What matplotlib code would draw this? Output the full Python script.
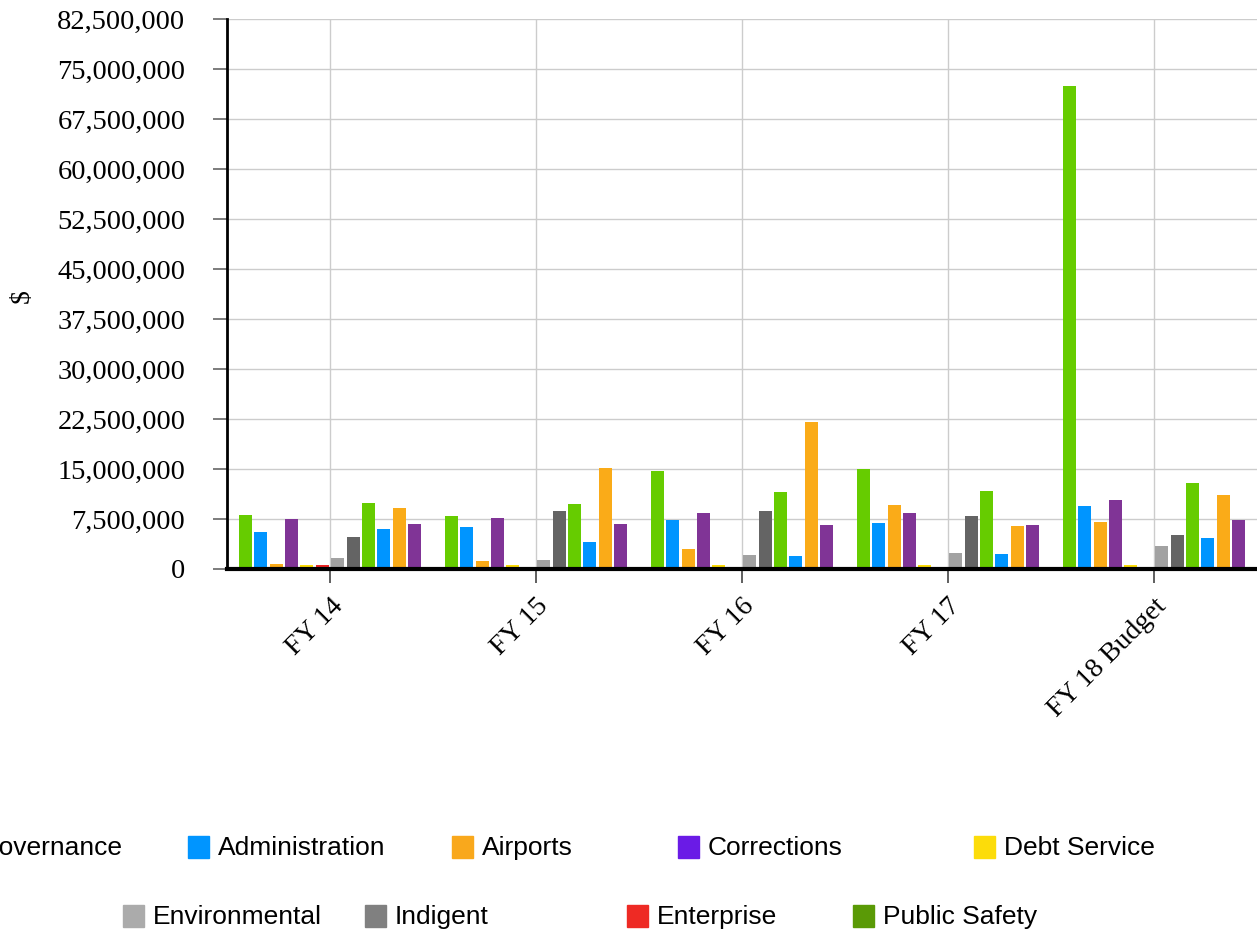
import numpy as np
import matplotlib.pyplot as plt
from matplotlib.patches import Rectangle
from matplotlib.ticker import FuncFormatter, MultipleLocator

years = ['FY 14', 'FY 15', 'FY 16', 'FY 17', 'FY 18 Budget']

# one list per department, one value per year ($)
governance = [8.1e6, 7.95e6, 14.7e6, 15.0e6, 72.45e6]
administration = [5.6e6, 6.3e6, 7.35e6, 6.9e6, 9.45e6]
airports = [0.75e6, 1.2e6, 3.0e6, 9.6e6, 7.05e6]
corrections = [7.5e6, 7.65e6, 8.4e6, 8.4e6, 10.35e6]
debt_service = [0.6e6, 0.6e6, 0.6e6, 0.6e6, 0.6e6]
enterprise = [0.6e6, 0, 0, 0, 0]
environmental = [1.65e6, 1.35e6, 2.1e6, 2.4e6, 3.45e6]
indigent = [4.8e6, 8.7e6, 8.7e6, 7.95e6, 5.1e6]
public_safety = [9.9e6, 9.75e6, 11.55e6, 11.7e6, 12.9e6]
public_works = [6.0e6, 4.05e6, 1.95e6, 2.25e6, 4.65e6]
recreation = [9.15e6, 15.15e6, 22.05e6, 6.45e6, 11.1e6]
transportation = [6.75e6, 6.75e6, 6.6e6, 6.6e6, 7.35e6]

series = [governance, administration, airports, corrections, debt_service,
          enterprise, environmental, indigent, public_safety, public_works,
          recreation, transportation]
bar_colors = ['#66cc00', '#0095ff', '#faab18', '#803496', '#fcdc06', '#ec2424',
              '#a2a2a2', '#646464', '#66cc00', '#0095ff', '#faab18', '#803496']

# legend as shown in the picture (first row is cut at the left edge)
leg_row1 = ['Governance', 'Administration', 'Airports', 'Corrections', 'Debt Service']
leg_row1_col = ['#66cc00', '#0095ff', '#f9a81c', '#6a1be6', '#fcdc0a']
leg_row2 = ['Environmental', 'Indigent', 'Enterprise', 'Public Safety']
leg_row2_col = ['#ababab', '#808080', '#ee2a24', '#5a9a06']

W, H = 1257, 930
fig = plt.figure(figsize=(W/100, H/100), dpi=100)
ax = fig.add_axes([227/W, 1-569/H, 1-227/W, 550/H])

x = np.arange(len(years))
slot = 0.0748
bw = 0.063
for i, (vals, c) in enumerate(zip(series, bar_colors)):
    off = (i - (len(series)-1)/2) * slot
    ax.bar(x + off, vals, width=bw, color=c, zorder=3)

ax.set_xlim(-0.5, 4.5)
ax.set_ylim(0, 82.5e6)
ax.yaxis.set_major_locator(MultipleLocator(7.5e6))
ax.yaxis.set_major_formatter(FuncFormatter(lambda v, p: f'{v:,.0f}'))
ax.set_xticks(x)
ax.set_xticklabels(years, rotation=45, ha='right', va='top',
                   rotation_mode='anchor', family='Liberation Serif', fontsize=20)
for lab in ax.get_yticklabels():
    lab.set_family('Liberation Serif')
    lab.set_fontsize(20.5)
ax.tick_params(axis='y', length=10, width=1.2, color='#666666', pad=20)
ax.tick_params(axis='x', length=10, width=1.2, color='#444444', pad=8)
ax.grid(color='#cccccc', linewidth=1, zorder=0)
ax.set_axisbelow(True)
for s in ['top', 'right']:
    ax.spines[s].set_visible(False)
ax.spines['left'].set_linewidth(2)
ax.spines['bottom'].set_linewidth(3)
ax.spines['bottom'].set_zorder(4)

fig.text(22/W, 1-296/H, '$', rotation=90, ha='center', va='center',
         family='Liberation Serif', fontsize=20)

# legend
sw, sh = 21, 22
row1_x = [-51, 188, 452, 678, 974]
row2_x = [123, 365, 627, 853]
for names, cols, xs, yc in [(leg_row1, leg_row1_col, row1_x, 847),
                            (leg_row2, leg_row2_col, row2_x, 916)]:
    for name, c, xp in zip(names, cols, xs):
        fig.patches.append(Rectangle((xp/W, 1-(yc+sh/2)/H), sw/W, sh/H,
                                     transform=fig.transFigure, color=c))
        fig.text((xp+sw+9)/W, 1-(yc+1)/H, name, ha='left', va='center',
                 family='Liberation Sans', fontsize=19)

fig.savefig('out.png', dpi=100)
